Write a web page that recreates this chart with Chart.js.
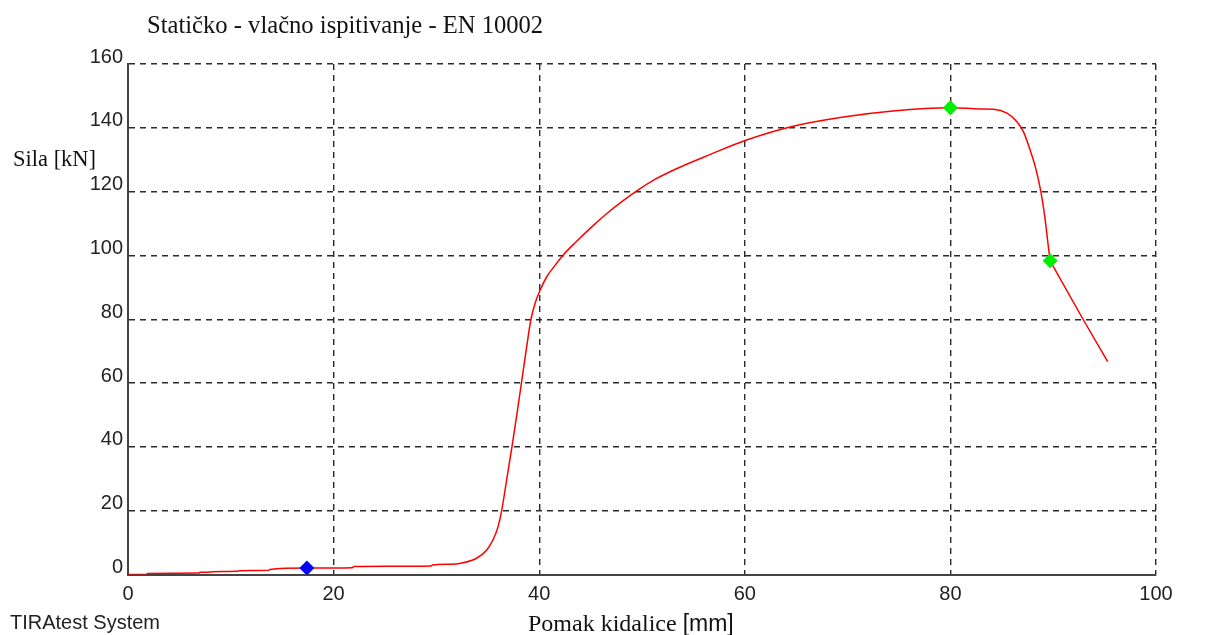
<!DOCTYPE html>
<html>
<head>
<meta charset="utf-8">
<title>Statičko - vlačno ispitivanje - EN 10002</title>
<script src="https://cdn.jsdelivr.net/npm/chart.js@4.4.1/dist/chart.umd.min.js"></script>
<style>
  html, body { margin: 0; padding: 0; background: #fff; }
  #wrap { width: 1206px; height: 635px; position: relative; }
</style>
</head>
<body>
<div id="wrap"><canvas id="tensileChart" width="1206" height="635"></canvas></div>
<script>
// Pomak kidalice [mm] / Sila [kN]
const displacement = [0, 1.8, 1.9, 6.9, 7.0, 8.1, 8.2, 10.7, 10.8, 13.7, 13.8, 17.4, 21.8, 22.0, 29.5, 29.6,
    31.3, 32.6, 33.9, 34.9, 35.5, 36.0, 36.35, 36.85, 37.35, 37.82, 38.27, 38.72, 39.2, 39.6, 40.1, 40.75,
    41.45, 42.3, 43.6, 45.3, 46.9, 48.3, 49.6, 51.3, 53.3, 56.6, 60.1, 64.7, 69.6, 74.4, 80.0, 82.9, 84.2, 85.5,
    86.45, 87.1, 87.7, 88.3, 88.8, 89.2, 89.5, 89.7, 92.9, 95.3];
const force = [0, 0.05, 0.35, 0.45, 0.7, 0.75, 0.9, 1.0, 1.2, 1.3, 1.6, 2.0, 2.15, 2.5, 2.7, 3.0,
    3.2, 3.7, 5.1, 7.7, 10.8, 15, 20, 30, 40, 50, 60, 70, 80, 85, 89.2, 93.4,
    96.5, 100, 104.3, 109.5, 114, 117.5, 120.5, 123.9, 127.1, 131.6, 136.1, 140.5, 143.4, 145.3, 146.3, 145.9, 145.8, 144.6,
    142, 138.8, 133.6, 127.3, 120, 111.7, 103.5, 98.3, 80, 66.7];

// after fracture point the machine plots a straight run to the last reading
const fractureIndex = displacement.indexOf(89.7);

// marked points on the curve
const markerX = [17.4, 80.0, 89.7];
const markerY = [2.0, 146.3, 98.3];
const markerColors = ["#0000ff", "#00ee00", "#00ee00"];

const xTicks = [0, 20, 40, 60, 80, 100];
const yTicks = [0, 20, 40, 60, 80, 100, 120, 140, 160];

const curvePoints = displacement.map((x, i) => ({ x: x, y: force[i] }));
const markerPoints = markerX.map((x, i) => ({ x: x, y: markerY[i] }));

// labels that sit outside the plot (title, horizontal axis names, footer)
const textPlugin = {
    id: "tiraText",
    afterDraw(chart) {
        const c = chart.ctx;
        c.save();
        c.textBaseline = "alphabetic";
        c.textAlign = "left";
        c.fillStyle = "#111";

        c.font = "24.6px 'Liberation Serif', 'Times New Roman', serif";
        c.fillText("Statičko - vlačno ispitivanje - EN 10002", 147, 33);

        c.font = "22.5px 'Liberation Serif', 'Times New Roman', serif";
        c.fillText("Sila [kN]", 13, 166);

        c.font = "24px 'Liberation Serif', 'Times New Roman', serif";
        c.fillText("Pomak kidalice ", 528, 631);
        const w = c.measureText("Pomak kidalice ").width;
        c.font = "23px 'Liberation Sans', Arial, sans-serif";
        c.fillText("[mm]", 528 + w, 631);

        c.fillStyle = "#222";
        c.font = "20px 'Liberation Sans', Arial, sans-serif";
        c.fillText("TIRAtest System", 10, 629);
        c.restore();
    }
};

const ctx = document.getElementById("tensileChart").getContext("2d");
new Chart(ctx, {
    type: "line",
    data: {
        datasets: [{
            label: "markers",
            data: markerPoints,
            showLine: false,
            pointStyle: "rectRot",
            pointRadius: 7.5,
            pointBorderWidth: 0,
            pointBackgroundColor: markerColors,
            pointBorderColor: markerColors,
            order: 0
        }, {
            label: "Sila",
            data: curvePoints.slice(0, fractureIndex + 1),
            borderColor: "#ff0000",
            borderWidth: 1.5,
            pointRadius: 0,
            cubicInterpolationMode: "monotone",
            fill: false,
            order: 1
        }, {
            label: "Sila (lom)",
            data: curvePoints.slice(fractureIndex),
            borderColor: "#ff0000",
            borderWidth: 1.5,
            pointRadius: 0,
            tension: 0,
            fill: false,
            order: 1
        }]
    },
    options: {
        responsive: false,
        animation: false,
        layout: { padding: { top: 64, right: 50, left: 0, bottom: 0 } },
        plugins: {
            legend: { display: false },
            tooltip: { enabled: false },
            title: { display: false }
        },
        scales: {
            x: {
                type: "linear",
                min: xTicks[0],
                max: xTicks[xTicks.length - 1],
                afterBuildTicks: (scale) => { scale.ticks = xTicks.map(v => ({ value: v })); },
                afterFit: (scale) => { scale.height = 60.5; },
                grid: { color: "#2a2a2a", lineWidth: 1.4, drawTicks: false },
                border: { display: true, color: "#444", width: 2, dash: [6, 5] },
                ticks: {
                    color: "#222",
                    padding: 8,
                    maxRotation: 0,
                    font: { family: "'Liberation Sans', Arial, sans-serif", size: 20 }
                }
            },
            y: {
                type: "linear",
                min: yTicks[0],
                max: yTicks[yTicks.length - 1],
                afterBuildTicks: (scale) => { scale.ticks = yTicks.map(v => ({ value: v })); },
                afterFit: (scale) => { scale.width = 128; },
                grid: { color: "#2a2a2a", lineWidth: 1.4, drawTicks: false },
                border: { display: true, color: "#444", width: 2, dash: [6, 5] },
                ticks: {
                    color: "#222",
                    padding: 5,
                    labelOffset: -7,
                    font: { family: "'Liberation Sans', Arial, sans-serif", size: 20 }
                }
            }
        }
    },
    plugins: [textPlugin]
});
</script>
</body>
</html>
